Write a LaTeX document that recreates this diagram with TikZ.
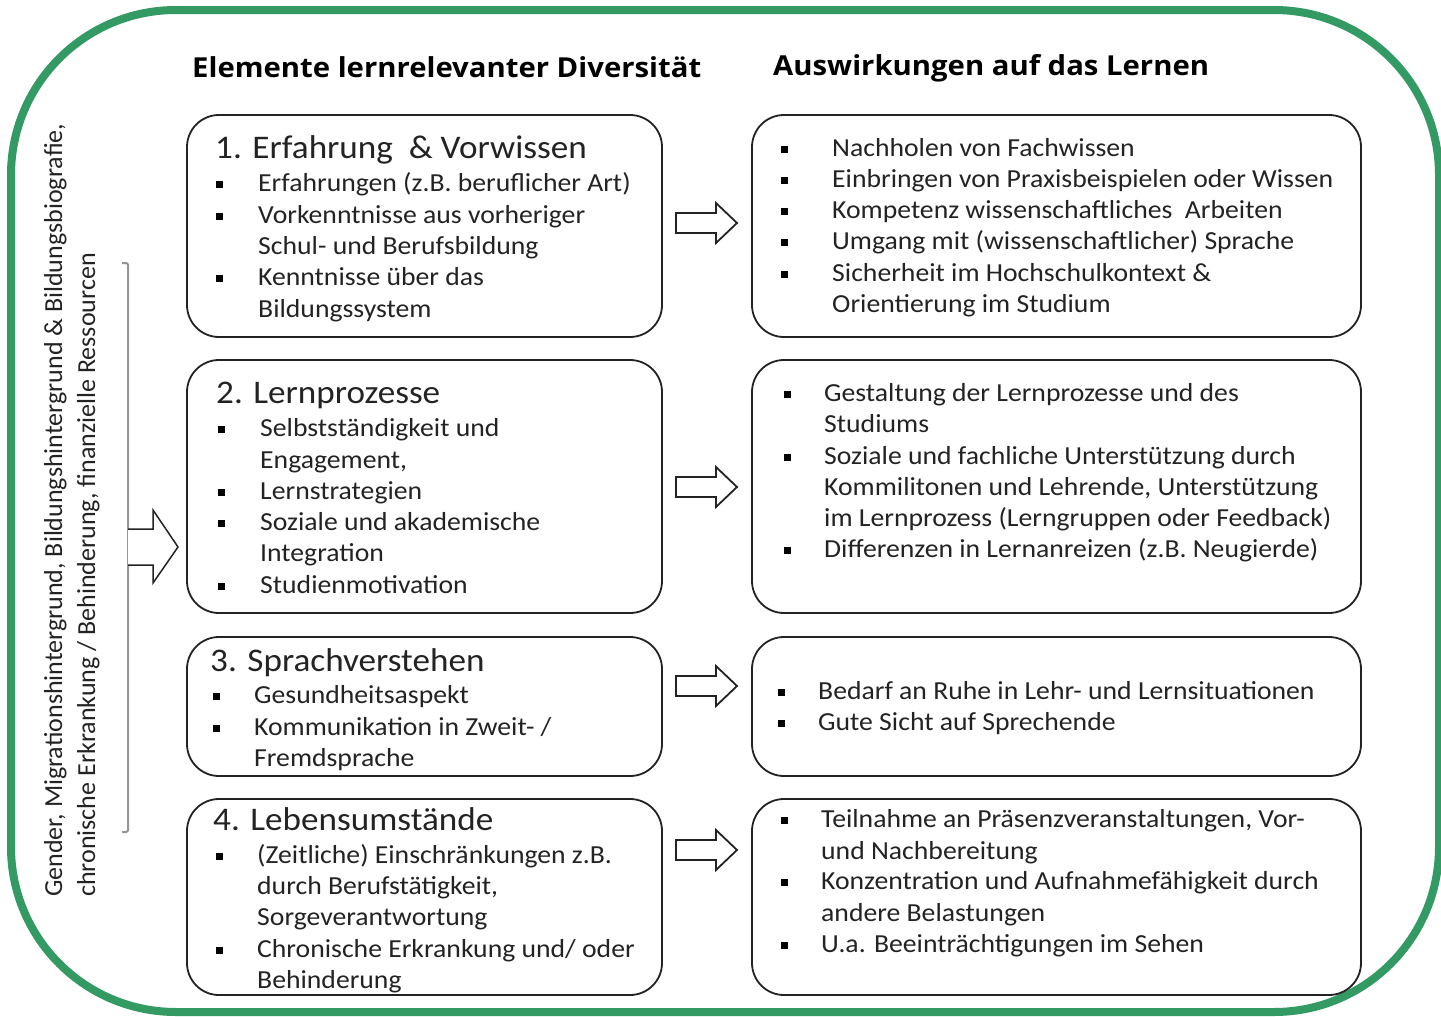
\documentclass[tikz,border=0pt]{standalone}
\usepackage{fontspec}
\setmainfont{Carlito}
\newfontfamily\bodyfont[FakeStretch=1.065]{Carlito}
\newfontfamily\titlefont[FakeStretch=1.065]{Open Sans}
\definecolor{framegreen}{RGB}{52,154,100}
\definecolor{ink}{RGB}{35,35,35}
\definecolor{bracketgray}{RGB}{150,150,150}
\newcommand\tline[4]{\node[txt] (#1) at (#2,#3) {#4};}
\newcommand\hdline[4]{\node[hd] (#1) at (#2,#3) {#4};}
\newcommand\tbul[3]{\node[bul] (#1) at (#2,#3) {};}
\newcommand\blockarrow[1]{\draw[blk, shift={(#1)}] (-30.5,-10) -- (9.5,-10) -- (9.5,-20) -- (30.5,0) -- (9.5,20) -- (9.5,10) -- (-30.5,10) -- cycle;}
\begin{document}
\begin{tikzpicture}[x=1pt,y=-1pt,
  box/.style={draw=ink, line width=1.8pt, rounded corners=32pt, inner sep=0pt},
  txt/.style={anchor=base west, inner sep=0pt, font=\bodyfont\fontsize{26}{30}\selectfont, text=ink},
  side/.style={anchor=base west, inner sep=0pt, font=\fontsize{26}{30}\selectfont, text=ink, rotate=90},
  hd/.style={anchor=base west, inner sep=0pt, font=\bodyfont\fontsize{33}{38}\selectfont, text=ink},
  ttl/.style={anchor=base west, inner sep=0pt, font=\titlefont\bfseries\fontsize{27.5}{32}\selectfont, text=black},
  bul/.style={fill=black, inner sep=0pt, minimum size=7pt},
  blk/.style={draw=ink, line width=1.8pt, fill=white, line join=miter},
]
\useasboundingbox (0,0) rectangle (1441,1017);
\fill[white] (0,0) rectangle (1441,1017);
% frame
\draw[framegreen, line width=8pt, rounded corners=165pt] (11,10) rectangle (1439,1012);

% titles
\node[ttl] (t1) at (192,77) {Elemente lernrelevanter Diversität};
\node[ttl] (t2) at (773,75) {Auswirkungen auf das Lernen};

% boxes
\node[box, minimum width=475pt, minimum height=222pt] (l1) at (424.5,226) {};
\node[box, minimum width=475pt, minimum height=253pt] (l2) at (424.5,486.5) {};
\node[box, minimum width=475pt, minimum height=139pt] (l3) at (424.5,706.5) {};
\node[box, minimum width=475pt, minimum height=196pt] (l4) at (424.5,897) {};
\node[box, minimum width=609pt, minimum height=222pt] (r1) at (1056.5,226) {};
\node[box, minimum width=609pt, minimum height=253pt] (r2) at (1056.5,486.5) {};
\node[box, minimum width=609pt, minimum height=139pt] (r3) at (1056.5,706.5) {};
\node[box, minimum width=609pt, minimum height=196pt] (r4) at (1056.5,897) {};

% arrows between boxes
\coordinate (a1) at (706.5,223);
\coordinate (a2) at (706.5,487);
\coordinate (a3) at (706.5,686);
\coordinate (a4) at (706.5,850);
\blockarrow{a1}
\blockarrow{a2}
\blockarrow{a3}
\blockarrow{a4}

% left bracket and arrow
\coordinate (bt) at (122,263);
\coordinate (bb) at (122,832);
\draw[bracketgray, line width=2pt, rounded corners=2pt] (bt) -- (128,263) -- (128,832) -- (bb);
\coordinate (la) at (128,547);
\draw[blk, line width=1.5pt, shift={(la)}] (0,-18) -- (25,-18) -- (25,-37) -- (50,0) -- (25,36) -- (25,18) -- (0,18);

% side text
\node[side] (s1) at (62,897) {Gender, Migrationshintergrund, Bildungshintergrund \& Bildungsbiografie,};
\node[side] (s2) at (95,897) {chronische Erkrankung / Behinderung, finanzielle Ressourcen};

% box l1
\hdline{h1}{215}{158}{1. Erfahrung~ \& Vorwissen}
\tbul{b11}{219}{184}\tline{x11}{258}{191}{Erfahrungen (z.B. beruflicher Art)}
\tbul{b12}{219}{216}\tline{x12}{258}{223}{Vorkenntnisse aus vorheriger}
\tline{x13}{258}{254}{Schul- und Berufsbildung}
\tbul{b14}{219}{278}\tline{x14}{258}{285}{Kenntnisse über das}
\tline{x15}{258}{317}{Bildungssystem}

% box l2
\hdline{h2}{216}{403}{2. Lernprozesse}
\tbul{b21}{221}{429}\tline{x21}{260}{436}{Selbstständigkeit und}
\tline{x22}{260}{468}{Engagement,}
\tbul{b23}{221}{492}\tline{x23}{260}{499}{Lernstrategien}
\tbul{b24}{221}{523}\tline{x24}{260}{530}{Soziale und akademische}
\tline{x25}{260}{561}{Integration}
\tbul{b26}{221}{586}\tline{x26}{260}{593}{Studienmotivation}

% box l3
\hdline{h3}{210}{671}{3. Sprachverstehen}
\tbul{b31}{216}{696}\tline{x31}{254}{703}{Gesundheitsaspekt}
\tbul{b32}{216}{728}\tline{x32}{254}{735}{Kommunikation in Zweit- /}
\tline{x33}{254}{766}{Fremdsprache}

% box l4
\hdline{h4}{213}{830}{4. Lebensumstände}
\tbul{b41}{219}{856}\tline{x41}{257}{863}{(Zeitliche) Einschränkungen z.B.}
\tline{x42}{257}{894}{durch Berufstätigkeit,}
\tline{x43}{257}{925}{Sorgeverantwortung}
\tbul{b44}{219}{950}\tline{x44}{257}{957}{Chronische Erkrankung und/ oder}
\tline{x45}{257}{988}{Behinderung}

% box r1
\tbul{c11}{784}{149}\tline{y11}{832}{156}{Nachholen von Fachwissen}
\tbul{c12}{784}{180}\tline{y12}{832}{187}{Einbringen von Praxisbeispielen oder Wissen}
\tbul{c13}{784}{211}\tline{y13}{832}{218}{Kompetenz wissenschaftliches~ Arbeiten}
\tbul{c14}{784}{242}\tline{y14}{832}{249}{Umgang mit (wissenschaftlicher) Sprache}
\tbul{c15}{784}{274}\tline{y15}{832}{281}{Sicherheit im Hochschulkontext \&}
\tline{y16}{832}{312}{Orientierung im Studium}

% box r2
\tbul{c21}{787}{394}\tline{y21}{824}{401}{Gestaltung der Lernprozesse und des}
\tline{y22}{824}{432}{Studiums}
\tbul{c23}{787}{457}\tline{y23}{824}{464}{Soziale und fachliche Unterstützung durch}
\tline{y24}{824}{495}{Kommilitonen und Lehrende, Unterstützung}
\tline{y25}{824}{526}{im Lernprozess (Lerngruppen oder Feedback)}
\tbul{c26}{787}{550}\tline{y26}{824}{557}{Differenzen in Lernanreizen (z.B. Neugierde)}

% box r3
\tbul{c31}{781}{692}\tline{y31}{818}{699}{Bedarf an Ruhe in Lehr- und Lernsituationen}
\tbul{c32}{781}{723}\tline{y32}{818}{730}{Gute Sicht auf Sprechende}

% box r4
\tbul{c41}{784}{820}\tline{y41}{821}{827}{Teilnahme an Präsenzveranstaltungen, Vor-}
\tline{y42}{821}{859}{und Nachbereitung}
\tbul{c43}{784}{882}\tline{y43}{821}{889}{Konzentration und Aufnahmefähigkeit durch}
\tline{y44}{821}{921}{andere Belastungen}
\tbul{c45}{784}{945}\tline{y45}{821}{952}{U.a. Beeinträchtigungen im Sehen}
\end{tikzpicture}
\end{document}
